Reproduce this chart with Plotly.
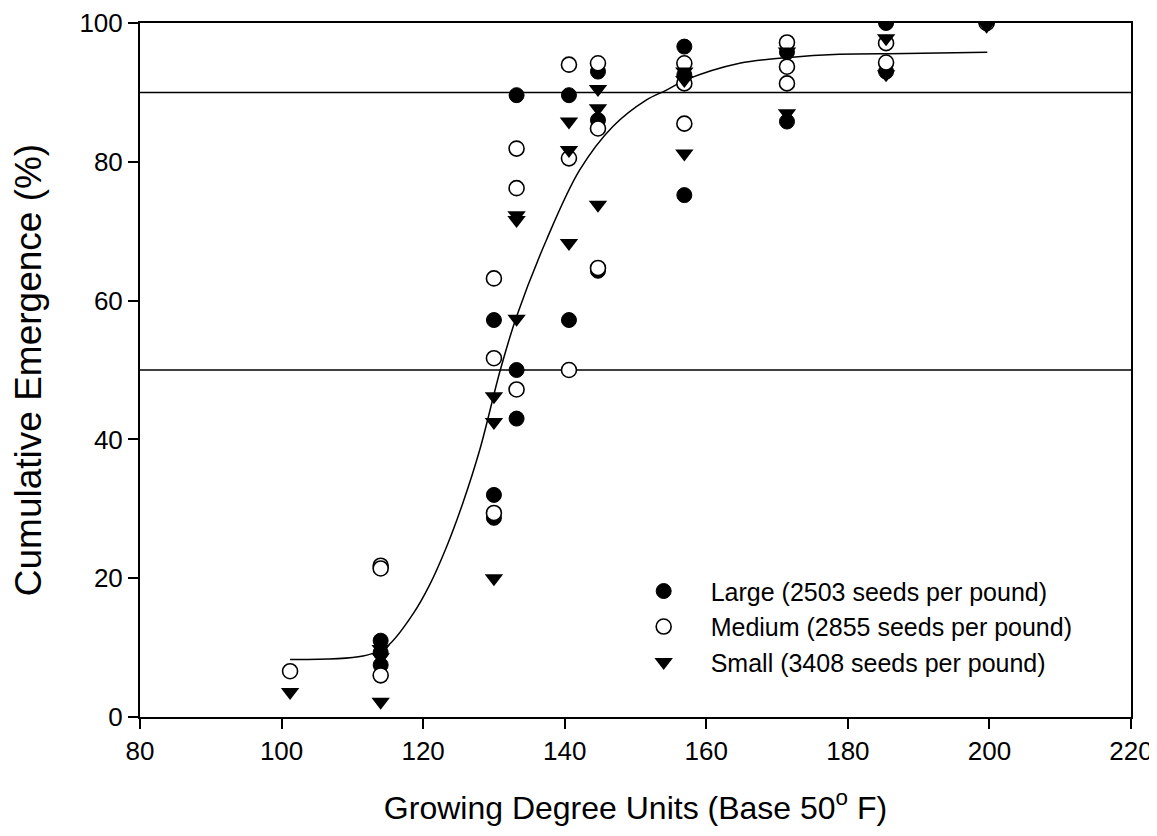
import plotly.graph_objects as go

# ---- data ----
large_x = [114.0, 114.0, 114.0, 130.0, 130.0, 130.0, 133.2, 133.2, 133.2, 140.6, 140.6,
           144.7, 144.7, 144.7, 156.9, 156.9, 156.9, 171.4, 171.4, 185.4, 185.4, 199.6]
large_y = [11.0, 9.3, 7.5, 57.2, 32.0, 28.7, 89.6, 50.0, 43.0, 89.6, 57.2,
           93.0, 86.0, 64.3, 96.6, 92.5, 75.2, 95.8, 85.8, 100.0, 93.0, 100.0]

medium_x = [101.2, 114.0, 114.0, 114.0, 130.0, 130.0, 130.0, 133.2, 133.2, 133.2,
            140.6, 140.6, 140.6, 144.7, 144.7, 144.7, 156.9, 156.9, 156.9,
            171.4, 171.4, 171.4, 185.4, 185.4, 199.6]
medium_y = [6.6, 21.8, 21.4, 6.0, 63.2, 51.7, 29.4, 81.9, 76.2, 47.2,
            94.0, 80.5, 50.0, 94.2, 84.8, 64.7, 94.2, 91.3, 85.5,
            97.2, 93.7, 91.3, 97.1, 94.3, 100.0]

small_x = [101.2, 114.0, 114.0, 114.0, 130.0, 130.0, 130.0, 133.2, 133.2, 133.2,
           140.6, 140.6, 140.6, 144.7, 144.7, 144.7, 156.9, 156.9, 156.9,
           171.4, 171.4, 185.4, 185.4, 199.6]
small_y = [3.6, 9.8, 8.6, 2.2, 46.2, 42.5, 20.0, 72.3, 71.6, 57.4,
           85.8, 81.7, 68.3, 90.5, 87.7, 73.8, 93.0, 91.8, 81.2,
           95.9, 87.0, 97.8, 92.6, 99.6]

# fitted curve
curve_x = [101.2, 111.5, 114.8, 118.6, 120.9, 123.3, 125.6, 128.0, 130.9, 133.2,
           137.4, 142.1, 146.8, 151.5, 154.3, 157.1, 164.7, 171.3, 178.8, 188.2, 199.7]
curve_y = [8.3, 8.8, 10.1, 14.9, 19.0, 24.5, 30.8, 38.5, 50.0, 57.7,
           68.7, 78.8, 85.1, 88.9, 90.3, 91.8, 94.2, 95.0, 95.5, 95.6, 95.8]

ref_lines = [90, 50]

series_names = ["Large (2503 seeds per pound)",
                "Medium (2855 seeds per pound)",
                "Small (3408 seeds per pound)"]

FONT = "Liberation Sans, Arial, sans-serif"

fig = go.Figure()

fig.add_trace(go.Scatter(x=curve_x, y=curve_y, mode="lines", line_shape="spline",
                         line=dict(color="black", width=1.5), showlegend=False,
                         hoverinfo="skip"))

fig.add_trace(go.Scatter(x=large_x, y=large_y, mode="markers", name=series_names[0],
                         marker=dict(symbol="circle", size=15, color="black",
                                     line=dict(color="black", width=1))))
fig.add_trace(go.Scatter(x=medium_x, y=medium_y, mode="markers", name=series_names[1],
                         marker=dict(symbol="circle", size=15, color="white",
                                     line=dict(color="black", width=1.6))))
fig.add_trace(go.Scatter(x=small_x, y=small_y, mode="markers", name=series_names[2],
                         marker=dict(symbol="triangle-down", size=16, color="black",
                                     line=dict(color="black", width=0))))

for v in ref_lines:
    fig.add_hline(y=v, line=dict(color="black", width=1.5), layer="below")

# the page body adds an 8px offset, so the figure is 8px smaller and left/top margins shifted
fig.update_layout(
    template="none",
    width=1149, height=828,
    margin=dict(l=132, r=26, t=15, b=119, autoexpand=False),
    paper_bgcolor="white", plot_bgcolor="white",
    font=dict(family=FONT, size=26, color="black"),
    showlegend=True,
    legend=dict(x=0.481, y=0.13, xanchor="left", yanchor="middle",
                bgcolor="rgba(0,0,0,0)", borderwidth=0,
                font=dict(size=25, family=FONT),
                itemwidth=84, tracegroupgap=0),
)

fig.update_xaxes(range=[80, 220], tickvals=[80, 100, 120, 140, 160, 180, 200, 220],
                 showgrid=False, zeroline=False, showline=True, linecolor="black",
                 linewidth=2, mirror=True, ticks="outside", ticklen=10, tickwidth=1.5,
                 tickcolor="black", tickfont=dict(size=26), automargin=False,
                 title=dict(text="Growing Degree Units (Base 50<sup>o</sup> F)",
                            font=dict(size=32), standoff=31))
fig.update_yaxes(range=[0, 100], tickvals=[0, 20, 40, 60, 80, 100],
                 showgrid=False, zeroline=False, showline=True, linecolor="black",
                 linewidth=2, mirror=True, ticks="outside", ticklen=10, tickwidth=1.5,
                 tickcolor="black", tickfont=dict(size=26), automargin=False,
                 title=dict(text="Cumulative Emergence (%)", font=dict(size=37),
                            standoff=28))

fig.write_html("out.html")
